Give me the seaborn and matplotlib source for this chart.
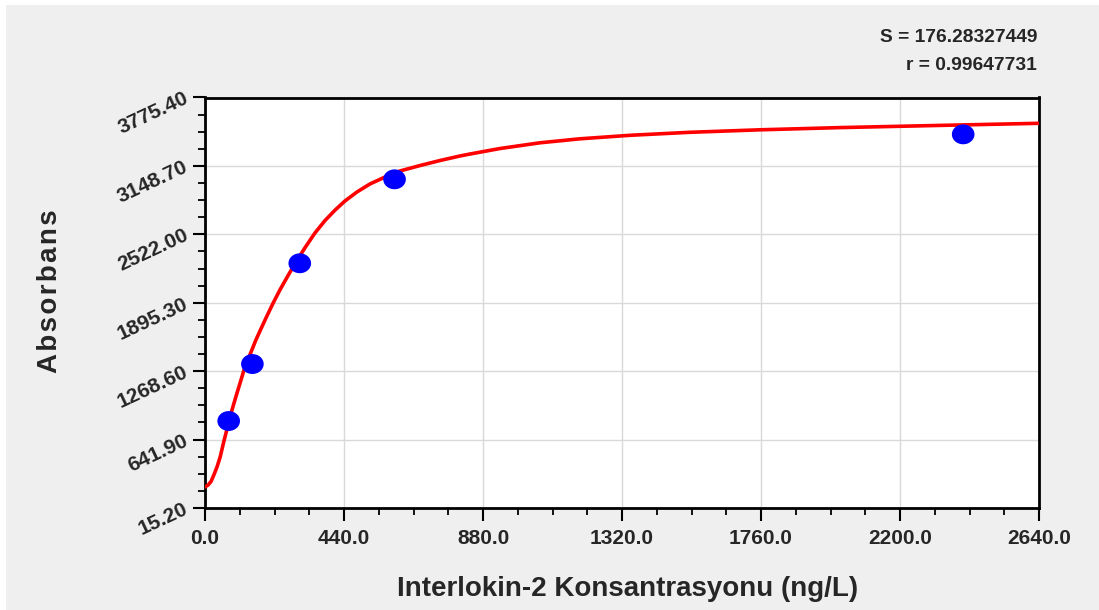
import numpy as np
import pandas as pd
import seaborn as sns
import matplotlib.pyplot as plt
from matplotlib.ticker import AutoMinorLocator
from matplotlib.patches import Rectangle

# standards (concentration, absorbance)
conc = [75, 150, 300, 600, 2400]
absorb = [812, 1334, 2257, 3026, 3438]

# fitted curve, points
curve_x = [0, 10, 19, 28, 38, 48, 60, 73, 85, 98, 111, 123, 136, 149, 161, 174,
           193, 215, 237, 263, 288, 317, 348, 380, 412, 443, 481, 522, 570, 617,
           681, 744, 807, 839, 934, 1060, 1187, 1345, 1535, 1757, 2010, 2327, 2640]
curve_y = [207.6, 225.9, 257.9, 317.5, 390.8, 482.4, 628.9, 775.5, 908.3, 1036.5,
           1160.2, 1274.7, 1375.5, 1467.1, 1554.1, 1636.5, 1755.6, 1888.4, 2012.1,
           2144.9, 2268.6, 2401.4, 2534.2, 2648.7, 2744.9, 2827.3, 2909.8, 2983.1,
           3047.2, 3102.2, 3152.5, 3198.3, 3239.6, 3257.8, 3308.2, 3360.4, 3397.1,
           3429.1, 3456.6, 3479.5, 3499.7, 3519.8, 3539.1]

x_ticks = [0, 440, 880, 1320, 1760, 2200, 2640]
x_labels = ["0.0", "440.0", "880.0", "1320.0", "1760.0", "2200.0", "2640.0"]
y_ticks = [15.20, 641.90, 1268.60, 1895.30, 2522.00, 3148.70, 3775.40]
y_labels = ["15.20", "641.90", "1268.60", "1895.30", "2522.00", "3148.70", "3775.40"]

stats = ["S = 176.28327449", "r = 0.99647731"]

sns.set_style("white")
plt.rcParams['font.family'] = ['Liberation Sans', 'DejaVu Sans']
plt.rcParams['font.weight'] = 'bold'

fig = plt.figure(figsize=(10.99, 6.10), dpi=100)
fig.patch.set_facecolor("white")
fig.add_artist(Rectangle((6 / 1099, 0), 1, 1 - 5 / 610, transform=fig.transFigure,
                         facecolor="#efefef", edgecolor="none", zorder=-10))
ax = fig.add_axes([205 / 1099, 1 - 508 / 610, (1039 - 205) / 1099, (508 - 97.5) / 610])
ax.set_facecolor("white")

# slightly flattened dot, like the original
t = np.linspace(0, 2 * np.pi, 60)
dot = np.column_stack([np.cos(t), 0.88 * np.sin(t)])

curve = pd.DataFrame({"x": curve_x, "y": curve_y})
pts = pd.DataFrame({"x": conc, "y": absorb})
sns.lineplot(data=curve, x="x", y="y", ax=ax, color="#ff0000", lw=2.6, sort=False, zorder=3)
sns.scatterplot(data=pts, x="x", y="y", ax=ax, color="#0000ff", s=265, marker=dot,
                edgecolor="none", zorder=4)

ax.set_xlim(0, 2640)
ax.set_ylim(15.2, 3775.4)
ax.set_xticks(x_ticks)
ax.set_xticklabels(x_labels, fontsize=15, fontweight="bold")
ax.set_yticks(y_ticks)
ax.set_yticklabels(y_labels, fontsize=15, fontweight="bold", rotation=25,
                   ha="right", va="center", rotation_mode="anchor")
ax.xaxis.set_minor_locator(AutoMinorLocator(4))
ax.yaxis.set_minor_locator(AutoMinorLocator(4))
ax.tick_params(which="major", direction="out", length=9, width=1.5, color="black", pad=6)
ax.tick_params(axis="y", which="major", pad=4)
ax.tick_params(which="minor", direction="out", length=5, width=1.3, color="black")
ax.tick_params(left=True, bottom=True, which="both")
ax.grid(True, which="major", color="#d9d9d9", lw=1)

for s in ax.spines.values():
    s.set_visible(True)
    s.set_color("black")
    s.set_linewidth(2)

ax.set_xlabel("Interlokin-2 Konsantrasyonu (ng/L)", fontsize=20, fontweight="bold", labelpad=20)
ax.xaxis.set_label_coords(0.507, -0.165)
ax.set_ylabel("A\u200ab\u200as\u200ao\u200ar\u200ab\u200aa\u200an\u200as", fontsize=20,
              fontweight="bold")
ax.yaxis.set_label_coords(-0.170, 0.529)

fig.text(1037 / 1099, 1 - 38 / 610, stats[0], ha="right", va="center", fontsize=13.8, fontweight="bold")
fig.text(1037 / 1099, 1 - 65 / 610, stats[1], ha="right", va="center", fontsize=13.8, fontweight="bold")

fig.savefig("out.png", dpi=100, facecolor=fig.get_facecolor())
